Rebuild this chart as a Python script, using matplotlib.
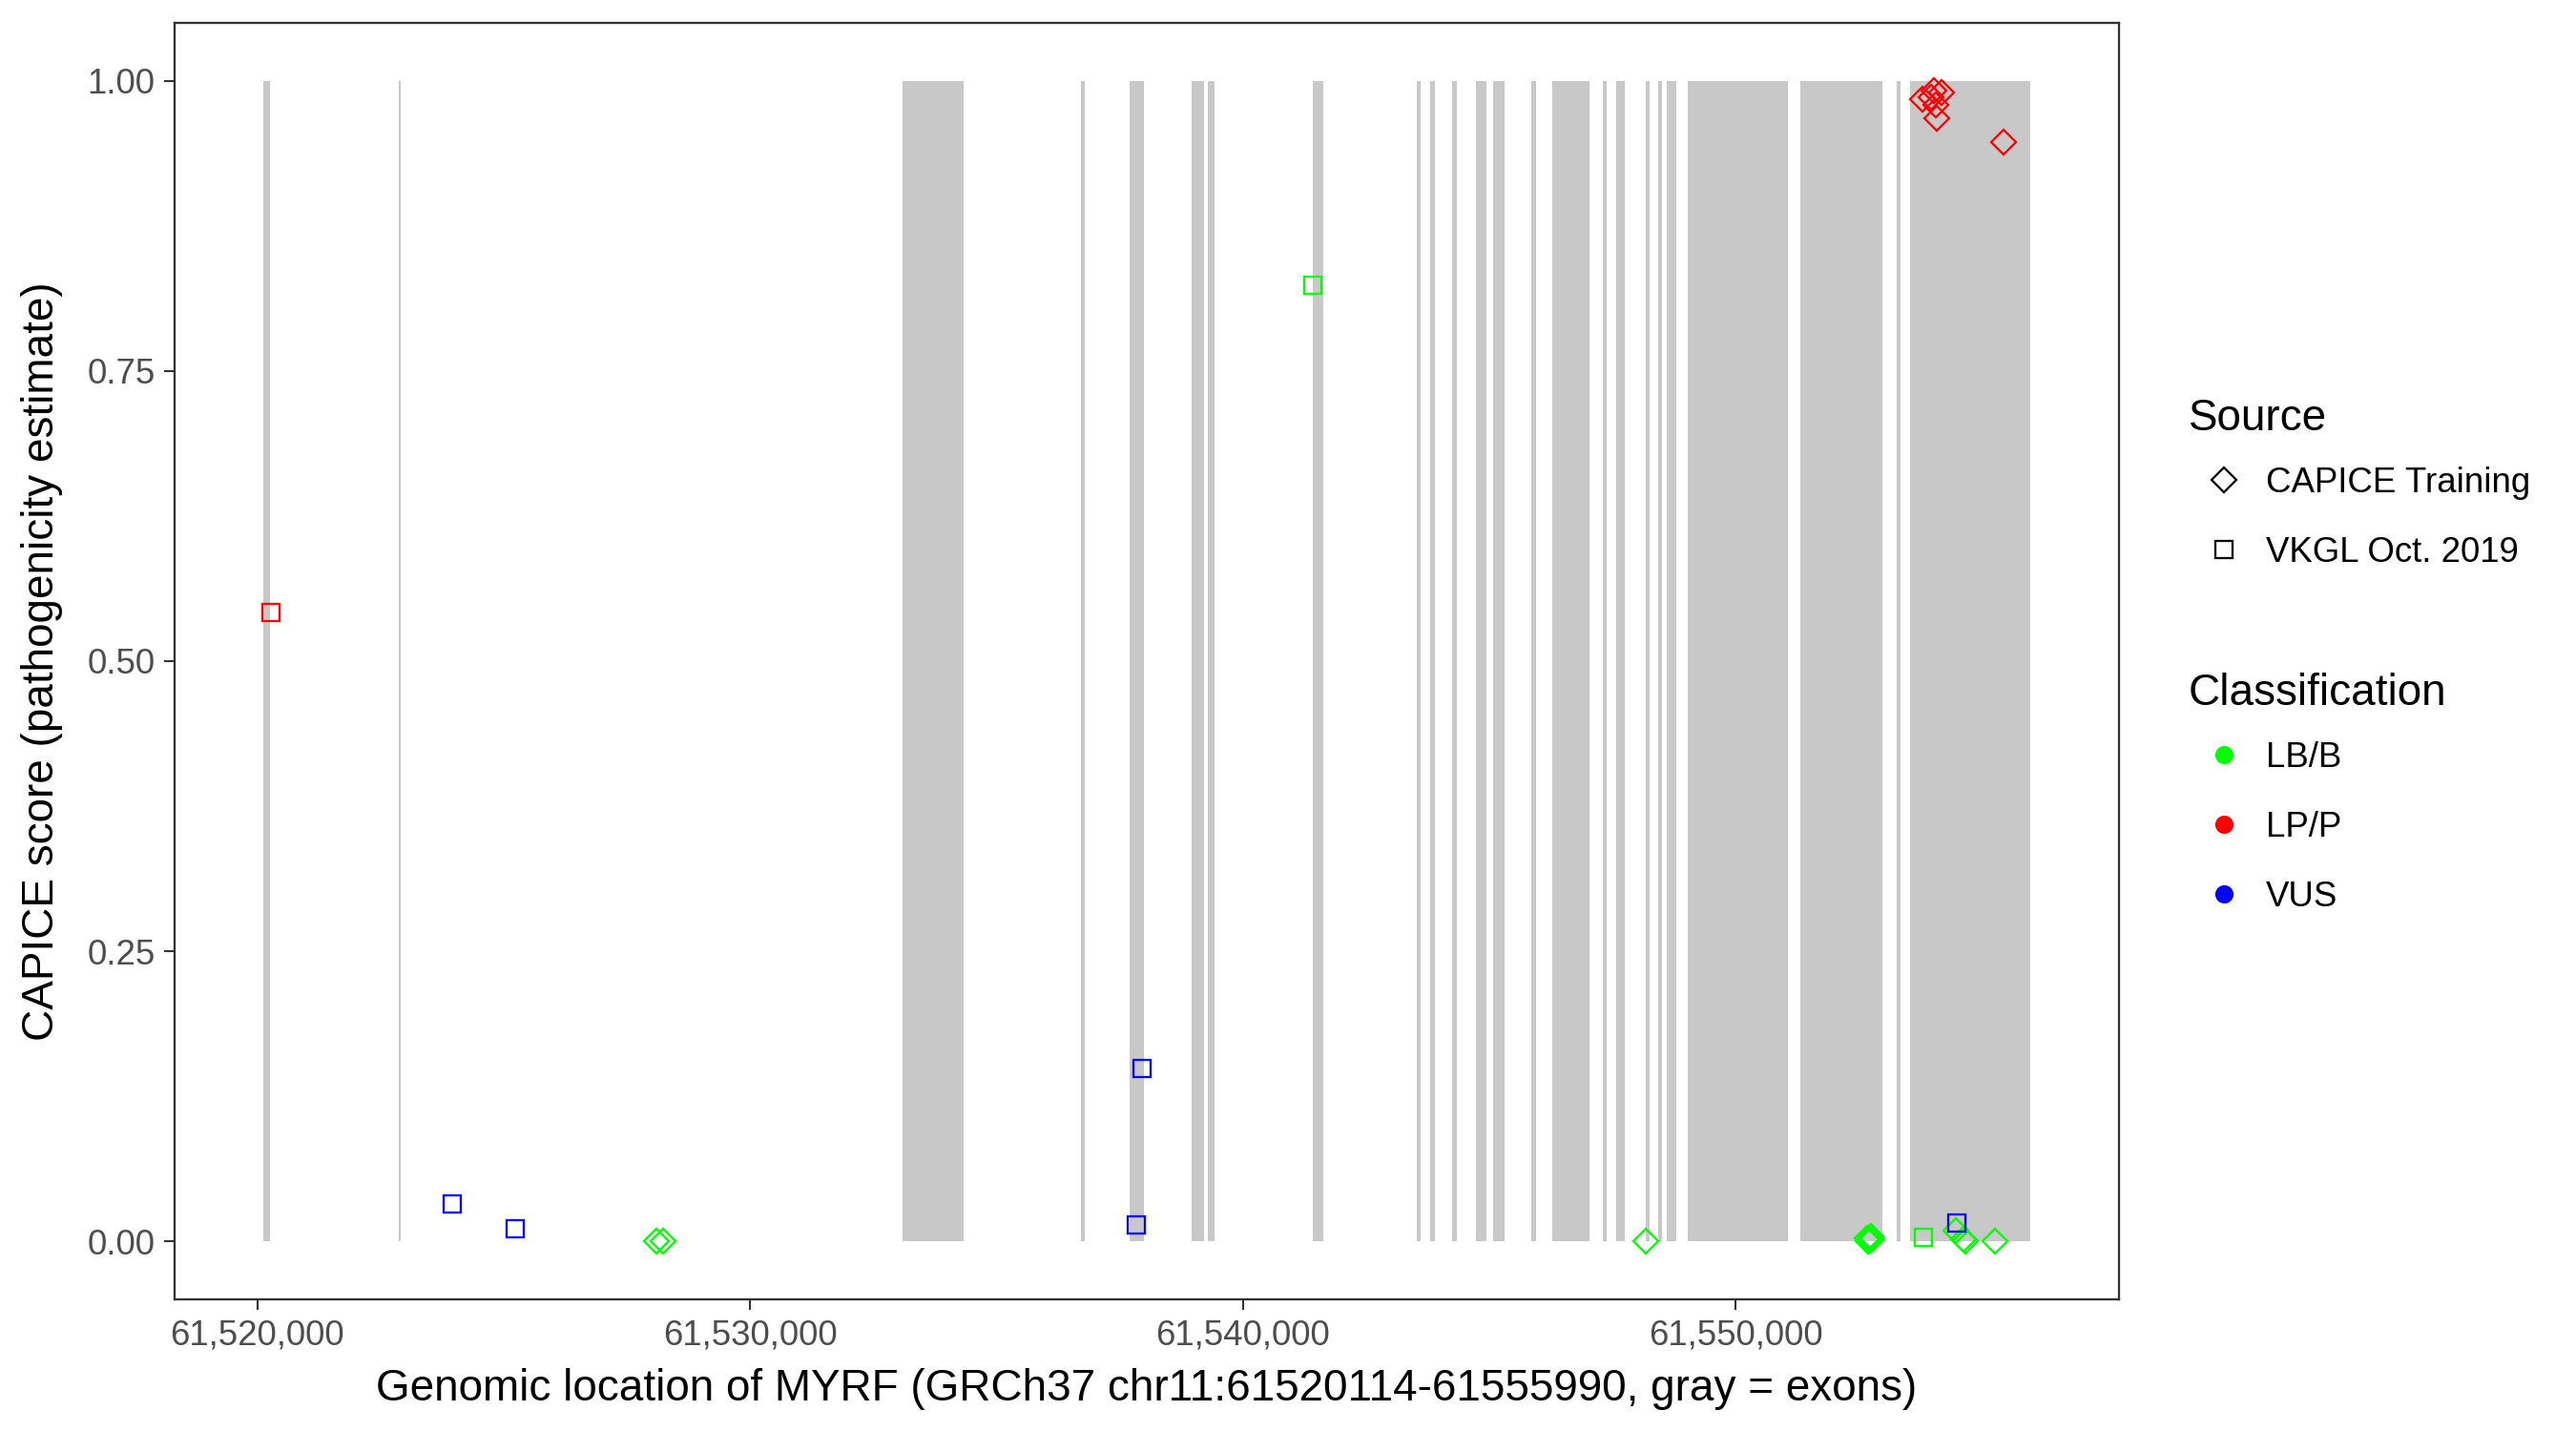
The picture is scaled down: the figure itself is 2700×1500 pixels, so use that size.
import matplotlib
matplotlib.use("Agg")
import matplotlib.pyplot as plt
from matplotlib.lines import Line2D
from matplotlib.ticker import FuncFormatter

plt.rcParams['font.family'] = ['Liberation Sans', 'DejaVu Sans']

# Exons (start, end) in bp
exon_start = [61520114, 61522861, 61533090, 61536722, 61537707, 61538967, 61539295,
              61541420, 61543523, 61543800, 61544257, 61544723, 61545072, 61545848,
              61546272, 61547315, 61547582, 61548187, 61548436, 61548608, 61549032,
              61551320, 61553270, 61553536]
exon_end = [61520255, 61522913, 61534341, 61536800, 61538001, 61539216, 61539425,
            61541632, 61543600, 61543895, 61544335, 61544938, 61545321, 61545960,
            61547040, 61547393, 61547754, 61548264, 61548514, 61548800, 61551060,
            61552977, 61553347, 61555990]

# CAPICE Training (diamonds)
capice_pos = [61528092, 61528239, 61548188, 61552680, 61552720, 61552750, 61552700,
              61552770, 61554480, 61554620, 61554673, 61555272,
              61554028, 61554177, 61553804, 61553965, 61554075, 61554094, 61555447]
capice_score = [0.0, 0.0, 0.0, 0.003, 0.001, 0.004, 0.0,
                0.002, 0.009, 0.002, 0.0, 0.0,
                0.992, 0.990, 0.984, 0.9855, 0.979, 0.968, 0.947]
capice_class = ['LB/B'] * 12 + ['LP/P'] * 7

# VKGL Oct. 2019 (squares)
vkgl_pos = [61520278, 61541417, 61553815, 61523949, 61525235, 61537829, 61537954, 61554492]
vkgl_score = [0.542, 0.824, 0.0034, 0.032, 0.0108, 0.0144, 0.149, 0.0157]
vkgl_class = ['LP/P', 'LB/B', 'LB/B', 'VUS', 'VUS', 'VUS', 'VUS', 'VUS']

class_names = ['LB/B', 'LP/P', 'VUS']
class_colors = {'LB/B': '#00FF00', 'LP/P': '#FF0000', 'VUS': '#0000FF'}

gene_start, gene_end = 61520114, 61555990
x_ticks = [61520000, 61530000, 61540000, 61550000]
y_ticks = [0.0, 0.25, 0.5, 0.75, 1.0]

fig = plt.figure(figsize=(9, 5), dpi=300)
ax = fig.add_axes([0.0678, 0.092, 0.7548, 0.892])

widths = [e - s for s, e in zip(exon_start, exon_end)]
ax.bar(exon_start, [1.0] * len(exon_start), width=widths, bottom=0, align='edge',
       color='#C8C8C8', linewidth=0, zorder=1)

ms_sq = 4.3
ms_d = 4.3
mew = 0.55
for p, s, c in zip(capice_pos, capice_score, capice_class):
    ax.plot(p, s, marker='D', ms=ms_d, mfc='none', mec=class_colors[c], mew=mew,
            linestyle='none', zorder=3)
for p, s, c in zip(vkgl_pos, vkgl_score, vkgl_class):
    ax.plot(p, s, marker='s', ms=ms_sq, mfc='none', mec=class_colors[c], mew=mew,
            linestyle='none', zorder=3)

span = gene_end - gene_start
ax.set_xlim(gene_start - 0.05 * span, gene_end + 0.05 * span)
ax.set_ylim(-0.05, 1.05)
ax.set_xticks(x_ticks)
ax.xaxis.set_major_formatter(FuncFormatter(lambda v, pos: f"{v:,.0f}"))
ax.set_yticks(y_ticks)
ax.set_yticklabels([f"{v:.2f}" for v in y_ticks])
ax.tick_params(axis='both', length=2.75, width=0.5, color='#333333',
               labelsize=8.8, labelcolor='#4D4D4D', pad=2.2)
for sp in ax.spines.values():
    sp.set_color('#333333')
    sp.set_linewidth(0.55)

ax.set_xlabel("Genomic location of MYRF (GRCh37 chr11:61520114-61555990, gray = exons)",
              fontsize=11, color='black', labelpad=4)
ax.set_ylabel("CAPICE score (pathogenicity estimate)", fontsize=11, color='black', labelpad=6)

src_handles = [Line2D([], [], marker='D', ms=ms_d, mfc='none', mec='black', mew=mew, linestyle='none'),
               Line2D([], [], marker='s', ms=ms_sq, mfc='none', mec='black', mew=mew, linestyle='none')]
leg1 = fig.legend(src_handles, ['CAPICE Training', 'VKGL Oct. 2019'], title='Source',
                  loc='upper left', bbox_to_anchor=(0.8496, 0.722), frameon=False,
                  fontsize=8.8, title_fontsize=11, alignment='left',
                  handletextpad=0.2, labelspacing=1.03, borderaxespad=0, borderpad=0)
cls_handles = [Line2D([], [], marker='o', ms=4.6, mfc=class_colors[c], mec='none', linestyle='none')
               for c in class_names]
leg2 = fig.legend(cls_handles, class_names, title='Classification',
                  loc='upper left', bbox_to_anchor=(0.8496, 0.53), frameon=False,
                  fontsize=8.8, title_fontsize=11, alignment='left',
                  handletextpad=0.2, labelspacing=1.03, borderaxespad=0, borderpad=0)
# tighten the gap between legend titles and their first entries
for leg in (leg1, leg2):
    leg._legend_box.sep = 1.03 * 8.8 - 2.3

fig.savefig("out.png", dpi=300)
